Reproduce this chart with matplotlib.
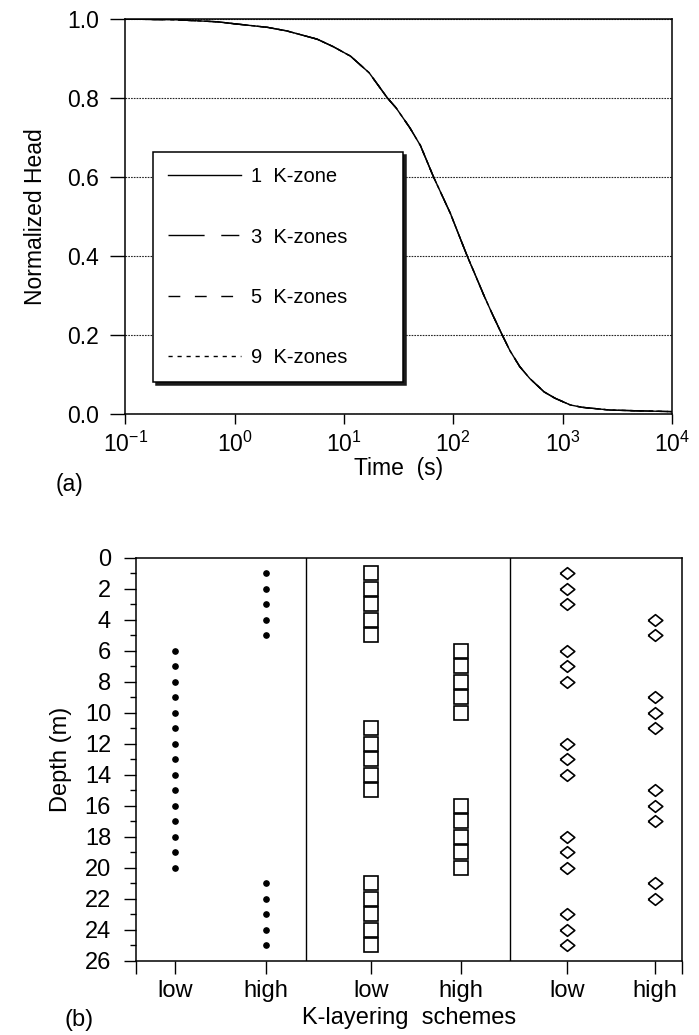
import numpy as np
import matplotlib.pyplot as plt
from matplotlib.ticker import FixedLocator, NullLocator, FormatStrFormatter, MultipleLocator

plt.rcParams['font.family'] = ['Liberation Sans', 'DejaVu Sans']
plt.rcParams['mathtext.default'] = 'regular'

# ======================================================
# (a) normalized head vs time
# ======================================================
time_s = [0.1, 0.3, 0.7, 1, 2, 3, 5.7, 8, 11.5, 17, 25, 30, 40, 50, 66, 80, 94, 110, 134, 160,
          192, 230, 280, 330, 405, 500, 676, 850, 1170, 1500, 2700, 5000, 10000]
head = [1.0, 0.998, 0.993, 0.988, 0.979, 0.97, 0.949, 0.93, 0.906, 0.864, 0.80, 0.775, 0.725,
        0.68, 0.60, 0.55, 0.508, 0.46, 0.40, 0.35, 0.298, 0.25, 0.20, 0.16, 0.12, 0.09, 0.056,
        0.04, 0.023, 0.017, 0.01, 0.008, 0.006]

zone_labels = ['1  K-zone', '3  K-zones', '5  K-zones', '9  K-zones']
zone_styles = ['-', (0, (26, 12, 13, 12)), (0, (8.5, 10.5)), (0, (3, 3.5))]

x_decades = [0.1, 1, 10, 100, 1000, 10000]
y_ticks_a = [0.0, 0.2, 0.4, 0.6, 0.8, 1.0]

# ======================================================
# (b) K-layering schemes (depths of low / high K layers)
# ======================================================
scheme_names = ['low', 'high', 'low', 'high', 'low', 'high']
one_low = [6, 7, 8, 9, 10, 11, 12, 13, 14, 15, 16, 17, 18, 19, 20]
one_high = [1, 2, 3, 4, 5, 21, 22, 23, 24, 25]
three_low = [1, 2, 3, 4, 5, 11, 12, 13, 14, 15, 21, 22, 23, 24, 25]
three_high = [6, 7, 8, 9, 10, 16, 17, 18, 19, 20]
nine_low = [1, 2, 3, 6, 7, 8, 12, 13, 14, 18, 19, 20, 23, 24, 25]
nine_high = [4, 5, 9, 10, 11, 15, 16, 17, 21, 22]

fig = plt.figure(figsize=(6.99, 10.35), dpi=100)

# ---------------- panel (a) ----------------
ax1 = fig.add_axes([0.179, 0.600, 0.7825, 0.3816])
for lab, ls in zip(zone_labels, zone_styles):
    ax1.plot(time_s, head, color='black', lw=1.0, linestyle=ls, label=lab)
ax1.set_xscale('log')
ax1.set_xlim(0.1, 1e4)
ax1.set_ylim(0, 1.0)
ax1.xaxis.set_major_locator(FixedLocator(x_decades))
ax1.xaxis.set_minor_locator(NullLocator())
ax1.set_yticks(y_ticks_a)
ax1.yaxis.set_major_formatter(FormatStrFormatter('%.1f'))
ax1.yaxis.grid(True, linestyle=(0, (1.5, 1)), color='0.15', lw=0.8)
ax1.tick_params(axis='y', direction='out', length=11, width=1, labelsize=16.5, pad=8)
ax1.tick_params(axis='x', direction='out', length=7, width=1, labelsize=16.5, pad=6)
for s in ax1.spines.values():
    s.set_linewidth(1.1)
ax1.set_xlabel('Time  (s)', fontsize=16.5, labelpad=0)
ax1.set_ylabel('Normalized Head', fontsize=16.5, labelpad=14)

leg = ax1.legend(loc='upper left', bbox_to_anchor=(0.051, 0.066, 0.457, 0.597), mode='expand',
                 borderaxespad=0, fontsize=14.5, handlelength=3.6, handletextpad=0.5,
                 labelspacing=2.05, borderpad=0.75, fancybox=False, edgecolor='black',
                 framealpha=1, shadow={'color': '0.1', 'alpha': 1.0})
leg.get_frame().set_linewidth(1.1)

fig.text(0.100, 1 - 484 / 1035, '(a)', fontsize=16.5, ha='center', va='center')

# ---------------- panel (b) ----------------
ax2 = fig.add_axes([0.1946, 0.0715, 0.781, 0.3894])
xpos = [0.43, 1.43, 2.58, 3.57, 4.74, 5.70]
dividers = [1.87, 4.11]

ax2.plot([xpos[0]] * len(one_low), one_low, 'o', color='black', ms=3.8)
ax2.plot([xpos[1]] * len(one_high), one_high, 'o', color='black', ms=3.8)
ax2.plot([xpos[2]] * len(three_low), three_low, 's', mfc='white', mec='black', mew=1.2, ms=10.3)
ax2.plot([xpos[3]] * len(three_high), three_high, 's', mfc='white', mec='black', mew=1.2, ms=10.3)
diamond = [(-1, 0), (0, -0.8), (1, 0), (0, 0.8), (-1, 0)]
ax2.plot([xpos[4]] * len(nine_low), nine_low, linestyle='none', marker=diamond,
         mfc='white', mec='black', mew=1.2, ms=10.5)
ax2.plot([xpos[5]] * len(nine_high), nine_high, linestyle='none', marker=diamond,
         mfc='white', mec='black', mew=1.2, ms=10.5)
for xd in dividers:
    ax2.axvline(xd, color='black', lw=1.0)

ax2.set_xlim(0, 6)
ax2.set_ylim(26, 0)
ax2.set_xticks([0] + xpos + [6])
ax2.set_xticklabels([''] + scheme_names + [''])
ax2.yaxis.set_major_locator(MultipleLocator(2))
ax2.yaxis.set_minor_locator(MultipleLocator(1))
ax2.tick_params(axis='y', which='major', direction='out', length=9, width=1, labelsize=17, pad=9)
ax2.tick_params(axis='y', which='minor', direction='out', length=4, width=1)
ax2.tick_params(axis='x', direction='out', length=9, width=1, labelsize=17, pad=5)
for s in ax2.spines.values():
    s.set_linewidth(1.1)
ax2.set_xlabel('K-layering  schemes', fontsize=17, labelpad=3)
ax2.set_ylabel('Depth (m)', fontsize=17, labelpad=9)

fig.text(0.113, 1 - 1020 / 1035, '(b)', fontsize=17, ha='center', va='center')

plt.savefig('out.png', dpi=100)
